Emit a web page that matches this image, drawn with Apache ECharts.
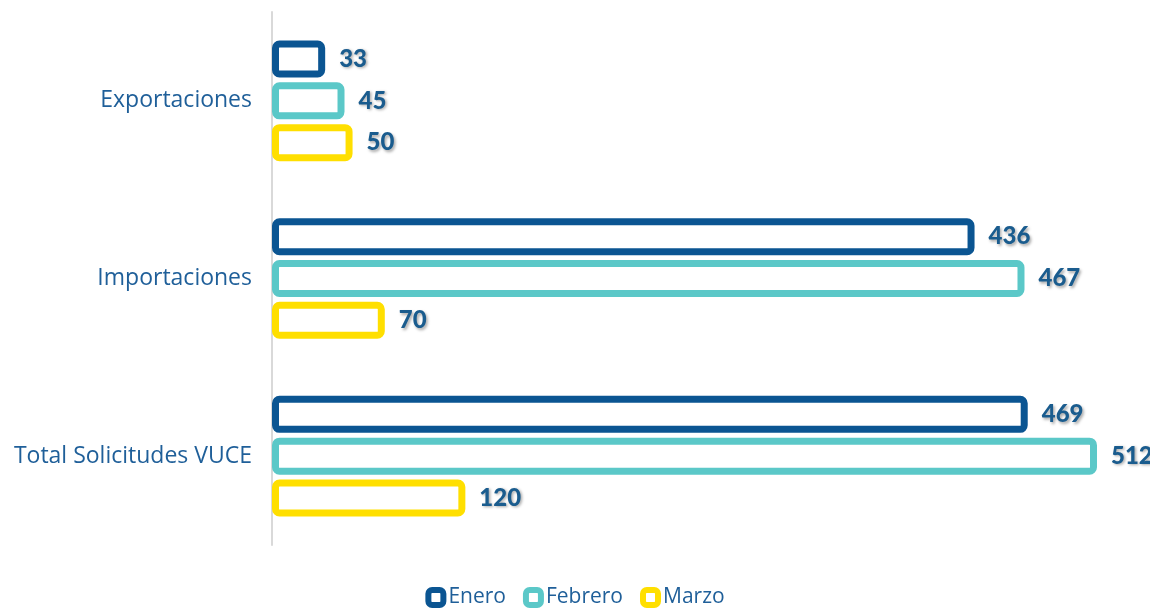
<!DOCTYPE html>
<html><head><meta charset="utf-8">
<script src="https://cdn.jsdelivr.net/npm/echarts@6/dist/echarts.min.js"></script>
<style>html,body{margin:0;padding:0;background:#fff;}#c{width:1150px;height:609px;}</style>
</head><body><div id="c"></div>
<script>
const categories = ['Exportaciones', 'Importaciones', 'Total Solicitudes VUCE'];
const seriesNames = ['Enero', 'Febrero', 'Marzo'];
const enero = [33, 436, 469];
const febrero = [45, 467, 512];
const marzo = [50, 70, 120];
const colors = ['#0B5592', '#5BC8C8', '#FFDF00'];
const values = [enero, febrero, marzo];

const chart = echarts.init(document.getElementById('c'), null, {renderer: 'canvas'});
const textColor = '#1F5F99';
chart.setOption({
  animation: false,
  grid: {left: 272, right: 53, top: 12, bottom: 64, containLabel: false},
  xAxis: {type: 'value', min: 0, max: 512, show: false},
  yAxis: {
    type: 'category', data: categories, inverse: true,
    axisLine: {show: true, lineStyle: {color: '#D9D9D9', width: 2}},
    axisTick: {show: false},
    axisLabel: {color: textColor, fontSize: 23, fontFamily: 'Open Sans', margin: 20}
  },
  legend: {
    top: 582, left: 'center', itemWidth: 15, itemHeight: 15, itemGap: 17,
    textStyle: {color: textColor, fontSize: 21, fontFamily: 'Open Sans'},
    data: seriesNames.map((n, i) => ({name: n, icon: 'roundRect', itemStyle: {color: '#fff', borderColor: colors[i], borderWidth: 6}}))
  },
  series: seriesNames.map((n, i) => ({
    name: n, type: 'bar', data: values[i], barWidth: 37, barGap: '13%',
    z: 3 - i,
    itemStyle: {color: '#fff', borderColor: colors[i], borderWidth: 7, borderRadius: 4},
    label: {
      show: true, position: 'right', distance: 14, color: '#1A5C8E',
      fontSize: 24, fontWeight: 900, fontFamily: 'Lato',
      textShadowColor: 'rgba(0,0,0,0.35)', textShadowBlur: 3, textShadowOffsetX: 1.5, textShadowOffsetY: 1.5
    }
  }))
});
</script></body></html>
